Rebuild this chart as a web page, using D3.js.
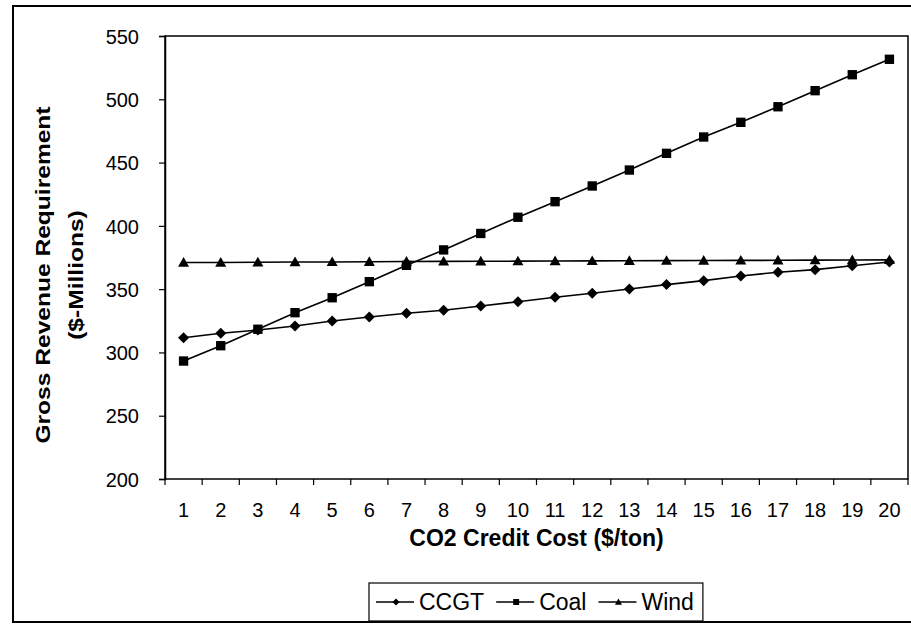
<!DOCTYPE html>
<html>
<head>
<meta charset="utf-8">
<script src="https://cdn.jsdelivr.net/npm/d3@7"></script>
<style>
  html, body { margin: 0; padding: 0; background: #fff; }
  svg { display: block; }
  text { font-family: "Liberation Sans", Arial, sans-serif; fill: #000; }
</style>
</head>
<body>
<svg id="chart" width="911" height="625"></svg>
<script>
// ---- data ----
const categories = [1,2,3,4,5,6,7,8,9,10,11,12,13,14,15,16,17,18,19,20];
const ccgt = [311.6,315.1,317.7,320.9,324.8,328.0,330.9,333.3,336.7,340.1,343.6,346.7,350.1,353.6,356.7,360.4,363.4,365.4,368.5,371.4];
const coal = [293.2,305.3,318.3,331.4,343.2,355.9,368.8,381.0,394.0,406.8,419.1,431.5,444.1,457.3,470.2,481.8,494.1,506.8,519.4,531.6];
const wind = [371.0,371.0,371.2,371.4,371.5,371.6,371.8,371.9,372.0,372.1,372.2,372.3,372.4,372.5,372.6,372.7,372.8,372.9,373.0,373.1];
const yTicks = [200,250,300,350,400,450,500,550];
const seriesNames = ["CCGT","Coal","Wind"];
const yTitle = ["Gross Revenue Requirement","($-Millions)"];
const xTitle = "CO2 Credit Cost ($/ton)";

const series = [
  {name: seriesNames[0], values: ccgt, marker: "diamond"},
  {name: seriesNames[1], values: coal, marker: "square"},
  {name: seriesNames[2], values: wind, marker: "triangle"}
];

const svg = d3.select("#chart");
const W = 911, H = 625;
const plot = {left: 165, right: 908, top: 36, bottom: 479};

// outer frame
svg.append("rect").attr("x", 13).attr("y", 6).attr("width", W + 5).attr("height", 616)
  .attr("fill", "none").attr("stroke", "#000").attr("stroke-width", 2);

const x = d3.scaleBand().domain(categories).range([plot.left, plot.right]).padding(0);
const y = d3.scaleLinear().domain([200, 550]).range([plot.bottom, plot.top]);

// plot border
svg.append("rect").attr("x", plot.left).attr("y", plot.top)
  .attr("width", plot.right - plot.left).attr("height", plot.bottom - plot.top)
  .attr("fill", "none").attr("stroke", "#000").attr("stroke-width", 1.5);

// y axis
const yAxis = svg.append("g").attr("transform", `translate(${plot.left},0)`)
  .call(d3.axisLeft(y).tickValues(yTicks).tickSize(6).tickPadding(20).tickFormat(d3.format("d")));
yAxis.select(".domain").attr("stroke-width", 1.5);
yAxis.selectAll(".tick line").attr("stroke-width", 1.2);
yAxis.selectAll("text").style("font-size", "20px").attr("font-family", null)
  .attr("dy", "0.36em");

// x axis labels (centered in bands)
const xAxis = svg.append("g").attr("transform", `translate(0,${plot.bottom})`)
  .call(d3.axisBottom(x).tickSize(0).tickPadding(0));
xAxis.select(".domain").remove();
xAxis.selectAll("text").attr("y", 38).attr("dy", 0).style("font-size", "20px").attr("font-family", null);

// x tick marks at band boundaries
const bounds = categories.map(c => x(c)).concat([x.range()[1]]);
svg.append("g").selectAll("line").data(bounds).join("line")
  .attr("x1", d => d).attr("x2", d => d)
  .attr("y1", plot.bottom).attr("y2", plot.bottom + 6)
  .attr("stroke", "#000").attr("stroke-width", 1.2);

// y-axis title (stretched along its length like the scanned original)
const yt = svg.append("text").attr("transform", `translate(50,275) rotate(-90) scale(1.17,1)`)
  .attr("text-anchor", "middle").style("font-size", "21px").style("font-weight", "bold");
yt.append("tspan").attr("x", 0).attr("dy", 0).text(yTitle[0]);
yt.append("tspan").attr("x", 0).attr("dy", 33).text(yTitle[1]);

// x-axis title
svg.append("text").attr("x", (plot.left + plot.right) / 2).attr("y", 546)
  .attr("text-anchor", "middle").style("font-size", "23px").style("font-weight", "bold")
  .text(xTitle);

// marker drawing
function drawMarker(g, type, cx, cy, s) {
  if (type === "diamond") {
    g.append("path").attr("d", `M${cx},${cy - s}L${cx + s},${cy}L${cx},${cy + s}L${cx - s},${cy}Z`).attr("fill", "#000");
  } else if (type === "square") {
    g.append("rect").attr("x", cx - s * 0.85).attr("y", cy - s * 0.85).attr("width", s * 1.7).attr("height", s * 1.7).attr("fill", "#000");
  } else {
    g.append("path").attr("d", `M${cx},${cy - s}L${cx + s},${cy + s * 0.75}L${cx - s},${cy + s * 0.75}Z`).attr("fill", "#000");
  }
}

const line = d3.line().x((d, i) => x(categories[i]) + x.bandwidth() / 2).y(d => y(d));
series.forEach(s => {
  const g = svg.append("g");
  g.append("path").datum(s.values).attr("d", line).attr("fill", "none")
    .attr("stroke", "#000").attr("stroke-width", 1.6);
  s.values.forEach((v, i) => drawMarker(g, s.marker, x(categories[i]) + x.bandwidth() / 2, y(v), 5.5));
});

// legend
const lg = svg.append("g");
const legRect = lg.append("rect").attr("y", 583).attr("height", 38).attr("fill", "#fff")
  .attr("stroke", "#000").attr("stroke-width", 1.2);
let cx = 376;
series.forEach(s => {
  lg.append("line").attr("x1", cx).attr("x2", cx + 38).attr("y1", 602).attr("y2", 602)
    .attr("stroke", "#000").attr("stroke-width", 1.4);
  drawMarker(lg, s.marker, cx + 20, 602, 3.5);
  const t = lg.append("text").attr("x", cx + 43).attr("y", 610).style("font-size", "23px").text(s.name);
  cx += 43 + t.node().getComputedTextLength() + 12;
});
legRect.attr("x", 369).attr("width", cx - 12 + 9 - 369);
</script>
</body>
</html>
